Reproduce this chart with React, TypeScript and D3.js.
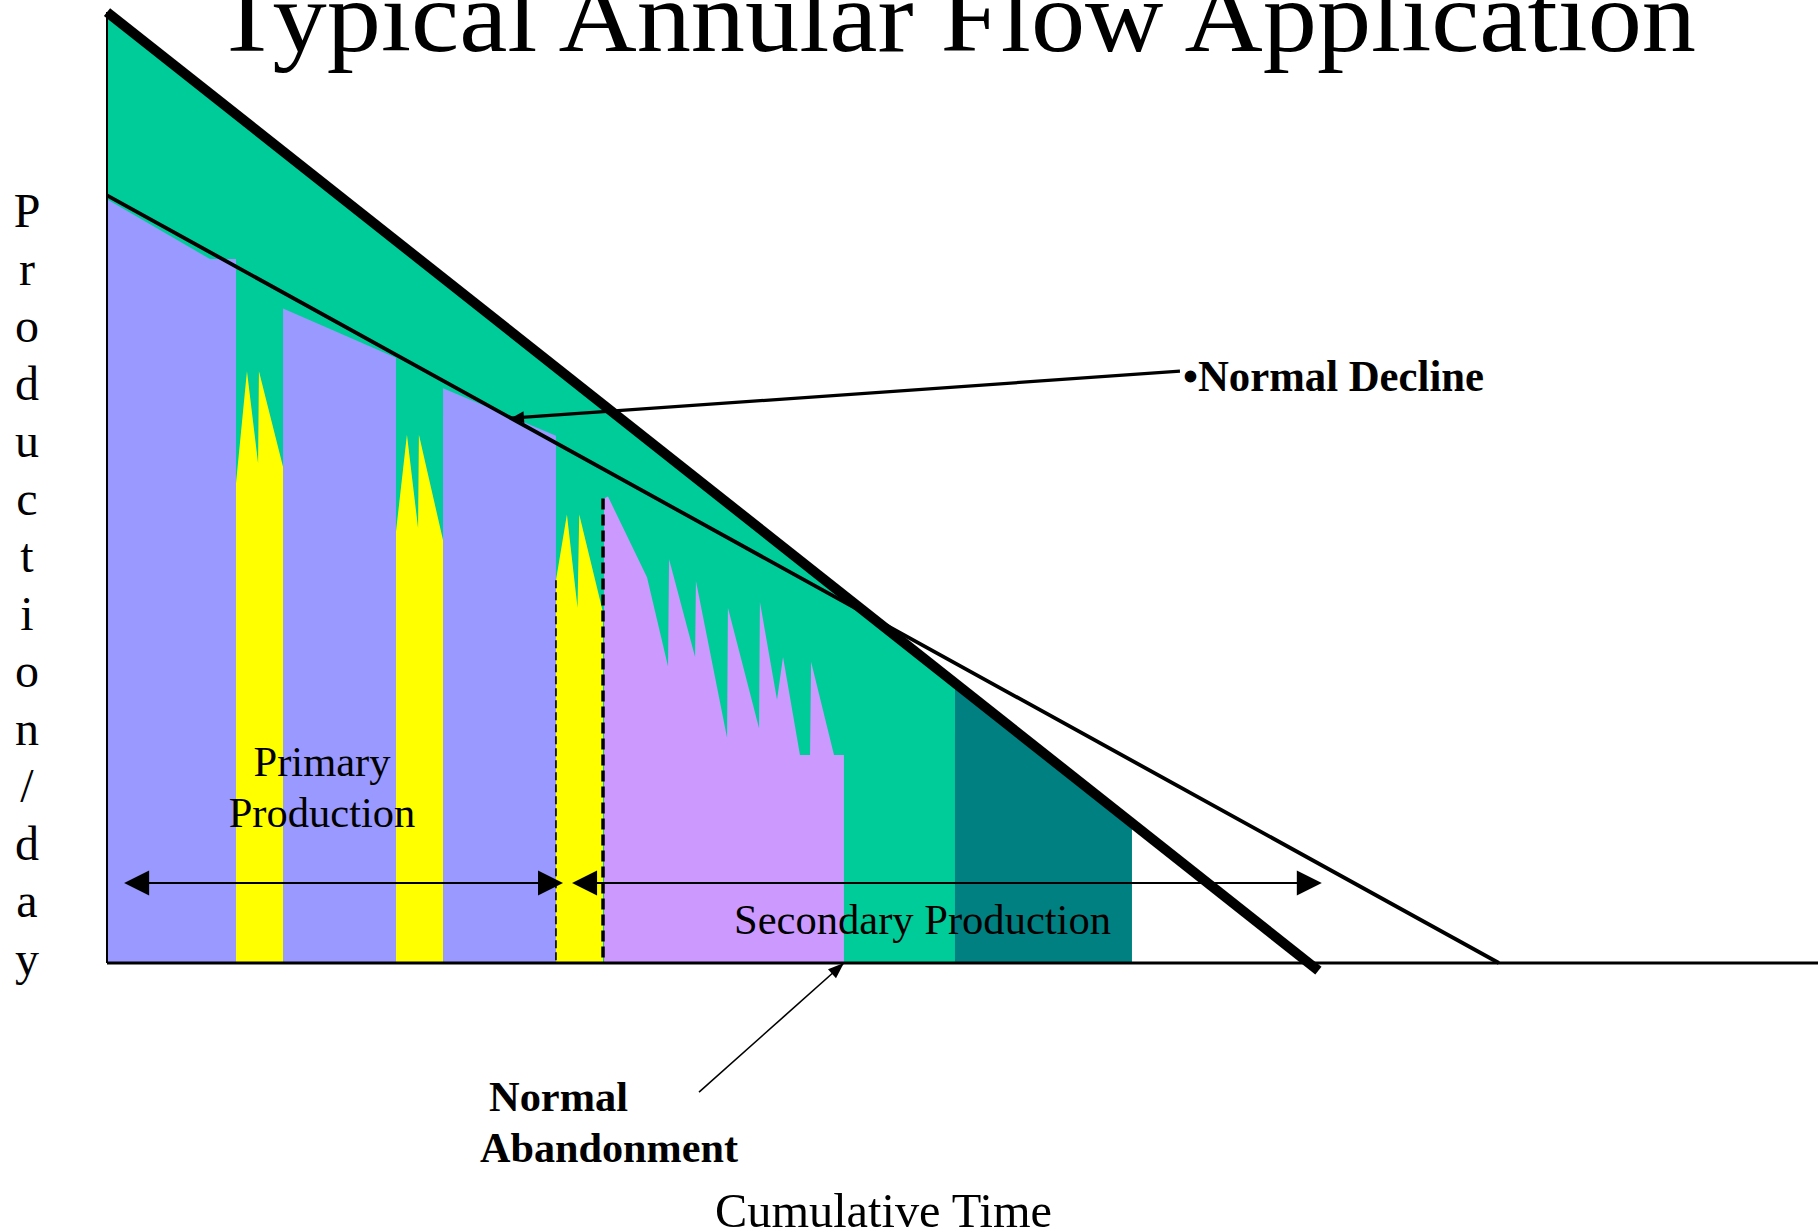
import React from "react";
import * as d3 from "d3";

const W = 1818;
const H = 1232;

// ---- data (time units / production units) ----
const annularDecline = [
  { t: 0, p: 100.1 },
  { t: 70.8, p: -0.8 },
];
const normalDecline = [
  { t: 0, p: 80.8 },
  { t: 81.35, p: 0 },
];
const primaryBlocks = [
  [{ t: 0, p: 80.4 }, { t: 6.02, p: 74.1 }, { t: 7.54, p: 74.1 }],
  [{ t: 10.29, p: 68.9 }, { t: 16.89, p: 63.7 }],
  [{ t: 19.64, p: 60.5 }, { t: 26.24, p: 55.5 }],
];
const stimulations = [
  [{ t: 7.54, p: 50.5 }, { t: 8.18, p: 62.3 }, { t: 8.83, p: 52.6 }, { t: 8.88, p: 62.3 }, { t: 10.29, p: 52.2 }],
  [{ t: 16.89, p: 45.4 }, { t: 17.53, p: 55.6 }, { t: 18.18, p: 45.8 }, { t: 18.23, p: 55.6 }, { t: 19.64, p: 44.5 }],
  [{ t: 26.24, p: 40.3 }, { t: 26.88, p: 47.2 }, { t: 27.5, p: 37.4 }, { t: 27.6, p: 47.2 }, { t: 28.99, p: 36.9 }],
];
const secondaryProfile = [
  { t: 29.05, p: 48.9 }, { t: 29.28, p: 49.1 }, { t: 31.56, p: 40.6 }, { t: 32.79, p: 31.2 },
  { t: 32.85, p: 42.5 }, { t: 34.37, p: 32.2 }, { t: 34.42, p: 40.2 }, { t: 36.24, p: 23.7 },
  { t: 36.29, p: 37.4 }, { t: 38.11, p: 24.7 }, { t: 38.16, p: 38.0 }, { t: 39.16, p: 27.7 },
  { t: 39.51, p: 32.2 }, { t: 40.5, p: 21.9 }, { t: 41.09, p: 21.9 }, { t: 41.15, p: 31.7 },
  { t: 42.49, p: 21.9 }, { t: 43.07, p: 21.9 },
];
const annularSpan = [0, 59.9];
const tealSpan = [49.56, 59.9];
const workoverMarkers = [
  { t: 26.24, p: 40.3, heavy: false },
  { t: 28.99, p: 48.9, heavy: true },
];
const phaseArrows = [
  { from: 1.0, to: 26.65, level: 8.42 },
  { from: 27.18, to: 71.0, level: 8.42 },
];
const declinePointer = { fromT: 62.71, fromP: 62.3, toT: 23.61 };
const abandonPointer = { fromT: 34.6, fromP: -13.6, toT: 43.07, toP: 0 };
const yLabelChars = "Production/day".split("");

// ---- scales ----
const x = d3.scaleLinear().domain([0, 100]).range([107, 1818]);
const y = d3.scaleLinear().domain([0, 100]).range([963, 13]);

const lerpLine = (pts: { t: number; p: number }[], t: number) => {
  const [a, b] = pts;
  return a.p + ((b.p - a.p) * (t - a.t)) / (b.t - a.t);
};

const area = d3
  .area<{ t: number; p: number }>()
  .x((d) => x(d.t))
  .y0(y(0))
  .y1((d) => y(d.p));
const line = d3
  .line<{ t: number; p: number }>()
  .x((d) => x(d.t))
  .y((d) => y(d.p));

function head(x1: number, y1: number, x2: number, y2: number, len: number, hw: number) {
  const dx = x2 - x1;
  const dy = y2 - y1;
  const L = Math.hypot(dx, dy);
  const ux = dx / L;
  const uy = dy / L;
  const bx = x2 - ux * len;
  const by = y2 - uy * len;
  return `${x2},${y2} ${bx - uy * hw},${by + ux * hw} ${bx + uy * hw},${by - ux * hw}`;
}

const FONT = "'Liberation Serif', 'Times New Roman', Times, serif";

export default function App() {
  const greenPts = annularSpan.map((t) => ({ t, p: lerpLine(annularDecline, t) }));
  const tealPts = tealSpan.map((t) => ({ t, p: lerpLine(annularDecline, t) }));
  const declineTip = { t: declinePointer.toT, p: lerpLine(normalDecline, declinePointer.toT) };

  return (
    <div style={{ position: "fixed", left: 0, top: 0, width: W, height: H, background: "#fff" }}>
      <svg width={W} height={H} viewBox={`0 0 ${W} ${H}`} style={{ display: "block" }}>
        <rect width={W} height={H} fill="#ffffff" />
        {/* annular flow envelope */}
        <path d={area(greenPts) || ""} fill="#00CC99" />
        <path d={area(tealPts) || ""} fill="#008080" />
        {/* primary production */}
        {primaryBlocks.map((b, i) => (
          <path key={"b" + i} d={area(b) || ""} fill="#9999FF" />
        ))}
        {/* stimulations */}
        {stimulations.map((s, i) => (
          <path key={"s" + i} d={area(s) || ""} fill="#FFFF00" />
        ))}
        {/* secondary production */}
        <path d={area(secondaryProfile) || ""} fill="#CC99FF" />
        {/* workover markers */}
        {workoverMarkers.map((m, i) => (
          <line
            key={"m" + i}
            x1={x(m.t)}
            x2={x(m.t)}
            y1={y(m.p)}
            y2={y(0)}
            stroke="#000"
            strokeWidth={m.heavy ? 3.5 : 1.6}
            strokeDasharray={m.heavy ? "11 5" : "8 4"}
          />
        ))}
        {/* axes */}
        <line x1={x(0)} x2={x(0)} y1={y(lerpLine(annularDecline, 0))} y2={y(0)} stroke="#000" strokeWidth={2} />
        <line x1={x(0)} x2={W} y1={y(0)} y2={y(0)} stroke="#000" strokeWidth={3} />
        {/* decline lines */}
        <path d={line(normalDecline) || ""} stroke="#000" strokeWidth={3.8} fill="none" />
        <path d={line(annularDecline) || ""} stroke="#000" strokeWidth={10} fill="none" />
        {/* phase arrows */}
        {phaseArrows.map((a, i) => {
          const x1 = x(a.from);
          const x2 = x(a.to);
          const yy = y(a.level);
          return (
            <g key={"a" + i}>
              <line x1={x1 + 10} x2={x2 - 10} y1={yy} y2={yy} stroke="#000" strokeWidth={2} />
              <polygon points={head(x2, yy, x1, yy, 25, 12.5)} fill="#000" />
              <polygon points={head(x1, yy, x2, yy, 25, 12.5)} fill="#000" />
            </g>
          );
        })}
        {/* normal decline pointer */}
        <line
          x1={x(declinePointer.fromT)}
          y1={y(declinePointer.fromP)}
          x2={x(declineTip.t)}
          y2={y(declineTip.p)}
          stroke="#000"
          strokeWidth={3.2}
        />
        <polygon
          points={head(x(declinePointer.fromT), y(declinePointer.fromP), x(declineTip.t), y(declineTip.p), 13, 6)}
          fill="#000"
        />
        {/* abandonment pointer */}
        <line
          x1={x(abandonPointer.fromT)}
          y1={y(abandonPointer.fromP)}
          x2={x(abandonPointer.toT)}
          y2={y(abandonPointer.toP)}
          stroke="#000"
          strokeWidth={1.6}
        />
        <polygon
          points={head(
            x(abandonPointer.fromT),
            y(abandonPointer.fromP),
            x(abandonPointer.toT),
            y(abandonPointer.toP),
            16,
            6
          )}
          fill="#000"
        />
        {/* texts */}
        <text
          x={955}
          y={51}
          textAnchor="middle"
          fontFamily={FONT}
          fontSize={102}
          textLength={1482}
          lengthAdjust="spacingAndGlyphs"
        >
          Typical Annular Flow Application
        </text>
        <text x={1183} y={391} fontFamily={FONT} fontWeight="bold" fontSize={45} textLength={301} lengthAdjust="spacingAndGlyphs">
          •Normal Decline
        </text>
        <text x={322} y={776} textAnchor="middle" fontFamily={FONT} fontSize={42.5}>
          Primary
        </text>
        <text x={322} y={827} textAnchor="middle" fontFamily={FONT} fontSize={42.5}>
          Production
        </text>
        <text x={734} y={934} fontFamily={FONT} fontSize={42.5} textLength={377} lengthAdjust="spacingAndGlyphs">
          Secondary Production
        </text>
        <text x={489} y={1111} fontFamily={FONT} fontWeight="bold" fontSize={42} textLength={139} lengthAdjust="spacingAndGlyphs">
          Normal
        </text>
        <text x={480} y={1162} fontFamily={FONT} fontWeight="bold" fontSize={42} textLength={258} lengthAdjust="spacingAndGlyphs">
          Abandonment
        </text>
        <text x={715} y={1227} fontFamily={FONT} fontSize={48} textLength={337} lengthAdjust="spacingAndGlyphs">
          Cumulative Time
        </text>
        {yLabelChars.map((c, i) => (
          <text key={"y" + i} x={27} y={227 + i * 57.5} textAnchor="middle" fontFamily={FONT} fontSize={48}>
            {c}
          </text>
        ))}
      </svg>
    </div>
  );
}
